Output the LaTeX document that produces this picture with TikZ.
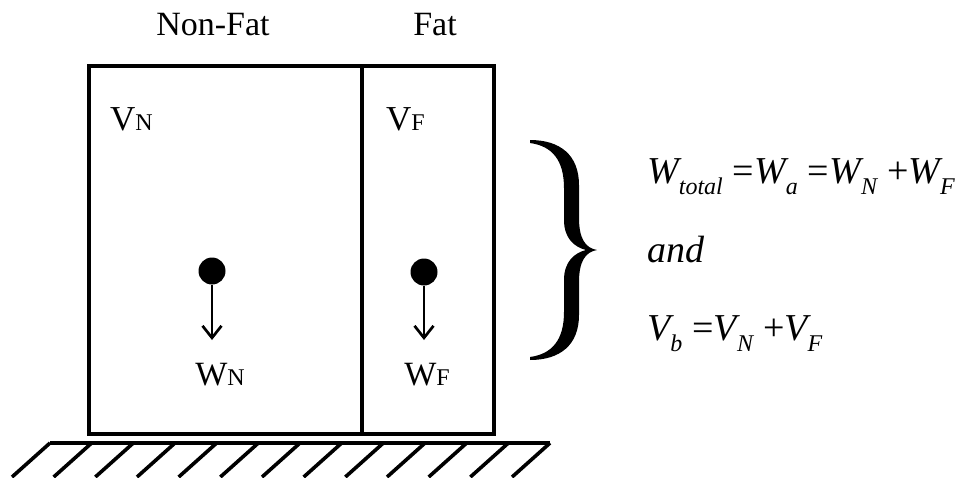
\documentclass[tikz,border=0pt]{standalone}
\usepackage{fontspec}
\setmainfont{Liberation Serif}
\usetikzlibrary{arrows.meta}

\newcommand{\capsub}[2]{#1{\fontsize{24}{24}\selectfont #2}}
\newcommand{\eqsym}[2]{{\itshape #1}\raisebox{-0.3em}{\fontsize{24}{24}\selectfont\itshape #2}}

\begin{document}
\begin{tikzpicture}[x=1pt,y=-1pt,
    wall/.style={line width=3.2pt},
    hatch/.style={line width=3.6pt},
    lbl/.style={inner sep=0pt, anchor=base, font=\fontsize{34}{34}\selectfont},
    vol/.style={inner sep=0pt, anchor=base west, font=\fontsize{35}{35}\selectfont},
    eqn/.style={inner sep=0pt, anchor=base west, font=\fontsize{38}{38}\selectfont},
    mass/.style={circle, fill, inner sep=0pt, minimum size=27pt},
    force/.style={-{Straight Barb[length=12pt,width=19pt]}, line width=2.7pt},
  ]
  \useasboundingbox (0,0) rectangle (959,477);
  % titles
  \node[lbl] (tnonfat) at (213,35) {Non-Fat};
  \node[lbl] (tfat) at (435,35) {Fat};
  % body and compartments
  \draw[wall] (89,66) rectangle (494,434);
  \draw[wall] (362,66) -- (362,434);
  \node[vol] (vn) at (110,130) {\capsub{V}{N}};
  \node[vol] (vf) at (386,130) {\capsub{V}{F}};
  % weights
  \node[mass] (mn) at (212,271) {};
  \node[mass] (mf) at (424,272) {};
  \coordinate (fn) at (212,340);
  \coordinate (ff) at (424,340);
  \draw[force] (mn) -- (fn);
  \draw[force] (mf) -- (ff);
  \node[lbl] (wn) at (220,385) {\capsub{W}{N}};
  \node[lbl] (wf) at (427,385) {\capsub{W}{F}};
  % ground
  \draw[wall] (50,443) -- (550,443);
  \foreach \k in {0,...,12}
    \draw[hatch] ({50+\k*41.67},443) -- ({50+\k*41.67-38},477);
  % brace
  \fill (530,140) .. controls (560,140) and (579,155) .. (579,185) -- (579,218)
        .. controls (579,238) and (585,248) .. (597,250)
        .. controls (585,252) and (579,262) .. (579,282) -- (579,315)
        .. controls (579,345) and (560,360) .. (530,360)
        -- (530,357) .. controls (552,354) and (564,340) .. (564,312) -- (564,280)
        .. controls (564,262) and (574,253) .. (586,250)
        .. controls (574,247) and (564,238) .. (564,220) -- (564,188)
        .. controls (564,160) and (552,146) .. (530,143) -- cycle;
  % relations
  \node[eqn] (eqw) at (647,183) {\eqsym{W}{total}\hspace{10pt}=\eqsym{W}{a}\hspace{10pt}=\eqsym{W}{N}\hspace{10pt}+\eqsym{W}{F}};
  \node[eqn] (eqand) at (647,262) {\itshape and};
  \node[eqn] (eqvb) at (647,340) {\eqsym{V}{b}\hspace{10pt}=\eqsym{V}{N}\hspace{10pt}+\eqsym{V}{F}};
\end{tikzpicture}
\end{document}
